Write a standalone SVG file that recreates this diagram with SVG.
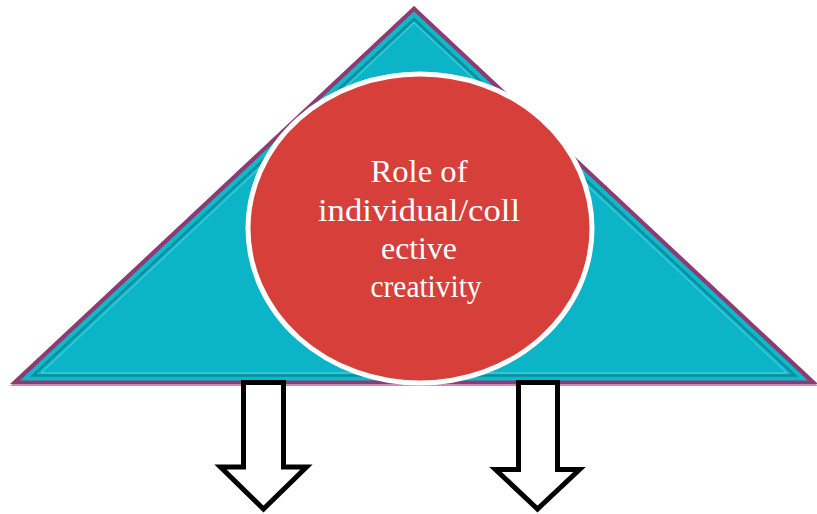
<svg xmlns="http://www.w3.org/2000/svg" width="817" height="514" viewBox="0 0 817 514">
<style>
.lbl{font-family:"Liberation Serif","Times New Roman",serif;font-size:32px;fill:#ffffff;text-anchor:middle}
.arrow{fill:#ffffff;stroke:#000000;stroke-width:5;stroke-linejoin:miter}
</style>
<rect width="817" height="514" fill="#ffffff"/>
<g id="triangle">
<polygon points="414,6 10,386 818,386" fill="#C98AB5"/>
<polygon points="414,6 10,384 818,384" fill="#8E3B72"/>
<polygon points="414,11.5 20,380.5 808,380.5" fill="#0FB9CB"/>
<polygon points="414,19 33,375.5 795,375.5" fill="none" stroke="#0A8E9C" stroke-width="2.5"/>
<polygon points="414,23 41,373 787,373" fill="#0BB4C6" stroke="#5CD4E0" stroke-width="1"/>
</g>
<g id="circle">
<ellipse cx="420" cy="228.5" rx="172" ry="154.5" fill="#D63F3A" stroke="#ffffff" stroke-width="5"/>
<text class="lbl" x="419" y="182" textLength="97" lengthAdjust="spacingAndGlyphs">Role of</text>
<text class="lbl" x="419" y="221" textLength="202" lengthAdjust="spacingAndGlyphs">individual/coll</text>
<text class="lbl" x="419" y="259" textLength="76" lengthAdjust="spacingAndGlyphs">ective</text>
<text class="lbl" x="426" y="297" textLength="111" lengthAdjust="spacingAndGlyphs">creativity</text>
</g>
<g id="connectors">
<polygon class="arrow" points="243.5,382.5 283.5,382.5 283.5,467 306.5,467 263.5,509 220.5,467 243.5,467"/>
<polygon class="arrow" points="518.5,382.5 557.5,382.5 557.5,469.5 579.5,469.5 537.5,509 495.5,469.5 518.5,469.5"/>
</g>
</svg>
